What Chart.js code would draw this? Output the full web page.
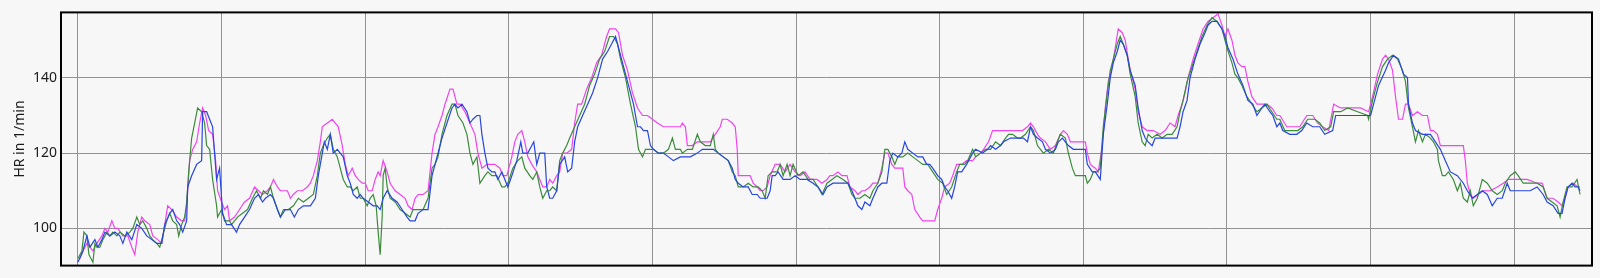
<!DOCTYPE html>
<html>
<head>
<meta charset="utf-8">
<script src="https://cdn.jsdelivr.net/npm/chart.js@4.4.0/dist/chart.umd.min.js"></script>
<style>
    html, body { margin: 0; padding: 0; background: #f7f7f7; }
</style>
</head>
<body>
<canvas id="CHART_HR" width="1600" height="278"></canvas>
<script>
// time in s, heart rate in 1/min (three sensors)
const hrBlue = [[0,91],[5,94],[9,98],[12,95],[17,97],[20,95],[24,97],[27,99],[32,98],[37,99],[42,98],[45,96],[49,99],[54,97],[59,101],[64,100],[69,98],[74,97],[79,96],[84,96],[87,101],[92,104],[95,105],[99,102],[102,101],[105,99],[109,102],[110,111],[114,114],[119,117],[124,118],[125,131],[129,131],[132,129],[135,127],[139,113],[142,116],[145,104],[149,101],[154,101],[159,99],[162,101],[167,103],[172,105],[177,108],[181,109],[185,107],[188,108],[193,109],[196,108],[200,105],[203,103],[208,105],[213,105],[217,103],[221,105],[226,106],[233,106],[238,108],[241,114],[245,120],[247,123],[250,121],[253,125],[256,120],[260,121],[263,120],[266,119],[270,114],[273,112],[276,109],[280,108],[283,109],[286,108],[291,107],[296,106],[300,106],[303,105],[306,108],[310,110],[315,108],[320,107],[325,105],[330,103],[333,102],[338,102],[341,104],[346,105],[351,105],[355,114],[358,117],[361,120],[365,124],[370,128],[375,132],[378,133],[381,132],[385,133],[390,131],[393,128],[396,129],[400,130],[403,130],[405,125],[408,120],[411,116],[415,115],[418,115],[421,113],[425,115],[428,113],[431,111],[435,114],[440,118],[444,123],[446,120],[451,120],[457,123],[460,117],[463,120],[468,120],[470,111],[473,108],[476,108],[480,110],[483,117],[488,119],[491,115],[495,116],[498,123],[501,127],[506,130],[511,133],[516,136],[521,140],[526,145],[531,147],[535,149],[539,151],[542,148],[546,144],[550,140],[554,136],[557,133],[561,127],[564,127],[567,126],[571,126],[574,122],[577,121],[582,120],[587,120],[592,119],[597,118],[604,119],[609,119],[614,119],[621,120],[626,121],[637,121],[642,120],[647,119],[652,118],[656,116],[659,113],[662,112],[667,111],[672,111],[676,109],[681,109],[684,108],[691,108],[694,110],[696,114],[699,114],[702,115],[707,113],[714,113],[719,114],[724,113],[731,113],[737,112],[742,111],[747,109],[751,111],[757,112],[764,112],[772,112],[776,110],[779,108],[782,106],[786,105],[789,107],[794,106],[797,108],[802,111],[806,112],[811,112],[814,118],[817,120],[822,119],[826,120],[829,123],[832,121],[837,120],[842,119],[847,119],[851,117],[854,117],[857,116],[862,114],[866,113],[869,111],[872,110],[876,108],[879,111],[882,115],[886,115],[891,117],[897,120],[900,121],[907,120],[912,121],[915,122],[920,121],[925,122],[928,123],[935,124],[948,124],[952,123],[955,127],[958,125],[962,124],[967,123],[970,121],[975,120],[980,121],[983,123],[987,124],[990,123],[993,122],[998,121],[1005,121],[1010,121],[1012,117],[1017,115],[1020,115],[1025,113],[1028,125],[1032,133],[1035,140],[1038,144],[1042,147],[1045,150],[1048,149],[1052,146],[1055,142],[1060,138],[1063,132],[1067,126],[1070,124],[1073,123],[1077,122],[1080,124],[1083,124],[1088,124],[1102,124],[1105,127],[1108,131],[1112,134],[1115,140],[1120,145],[1125,149],[1130,152],[1133,154],[1137,155],[1142,155],[1147,153],[1150,151],[1153,148],[1158,145],[1163,141],[1168,138],[1173,134],[1178,133],[1182,130],[1187,132],[1190,133],[1195,131],[1198,130],[1202,127],[1205,128],[1208,126],[1215,125],[1222,125],[1227,126],[1232,128],[1238,127],[1245,127],[1250,125],[1258,126],[1261,130],[1269,130],[1279,130],[1289,130],[1296,130],[1299,133],[1304,138],[1311,142],[1314,144],[1319,146],[1324,145],[1329,141],[1333,140],[1334,133],[1338,128],[1341,126],[1348,125],[1356,125],[1361,123],[1366,121],[1371,118],[1376,115],[1383,114],[1389,112],[1393,110],[1398,108],[1403,109],[1408,110],[1413,109],[1418,106],[1423,108],[1428,108],[1433,112],[1436,110],[1446,110],[1456,110],[1463,111],[1469,109],[1473,107],[1479,106],[1484,104],[1488,104],[1491,108],[1494,111],[1498,112],[1501,111],[1504,111],[1506,110]];

const hrGreen = [[0,92],[4,94],[6,99],[9,98],[11,93],[15,91],[17,96],[19,95],[22,95],[25,97],[29,99],[32,98],[35,99],[39,98],[42,99],[47,98],[52,99],[55,100],[59,103],[62,101],[65,102],[69,100],[72,98],[75,97],[79,96],[82,95],[85,98],[89,102],[92,104],[95,102],[99,101],[101,98],[104,101],[107,103],[109,107],[111,115],[114,124],[117,128],[120,132],[124,131],[127,128],[129,122],[132,121],[135,113],[139,106],[140,103],[144,105],[147,102],[152,102],[154,101],[157,102],[160,103],[165,104],[170,105],[175,108],[179,110],[183,108],[186,110],[190,109],[193,111],[196,108],[200,105],[203,103],[206,105],[211,105],[216,106],[221,108],[226,107],[231,108],[236,109],[240,114],[243,120],[246,122],[250,124],[253,125],[256,121],[260,119],[263,116],[266,113],[270,111],[273,111],[276,110],[280,111],[283,108],[286,108],[290,106],[293,108],[296,109],[299,106],[301,99],[303,93],[305,103],[306,114],[308,116],[310,111],[313,108],[318,107],[323,105],[328,104],[333,103],[336,105],[341,105],[346,105],[351,108],[355,116],[358,117],[361,119],[365,125],[370,130],[375,133],[378,133],[381,130],[386,128],[390,125],[393,120],[396,117],[400,119],[403,112],[408,114],[411,115],[415,114],[420,114],[425,111],[428,111],[431,112],[436,116],[441,118],[445,119],[448,116],[453,114],[456,113],[460,115],[463,111],[466,108],[470,110],[473,110],[476,111],[480,110],[483,118],[486,120],[490,122],[493,124],[498,127],[503,130],[508,133],[513,138],[518,141],[523,145],[528,147],[533,151],[537,151],[541,149],[544,145],[549,140],[554,133],[559,127],[562,121],[566,119],[569,121],[572,121],[577,121],[582,120],[587,120],[592,121],[596,124],[599,121],[604,121],[606,120],[611,121],[616,121],[621,125],[624,123],[629,122],[634,122],[637,125],[639,121],[642,120],[647,119],[652,118],[656,115],[659,114],[662,111],[667,111],[672,112],[677,111],[682,111],[686,110],[689,108],[692,114],[696,115],[701,115],[704,117],[707,114],[711,117],[714,114],[717,117],[722,114],[727,115],[732,113],[737,113],[742,111],[746,109],[751,112],[756,113],[761,114],[767,113],[772,112],[776,109],[779,108],[784,108],[789,109],[794,108],[797,110],[802,112],[806,115],[809,121],[812,121],[816,119],[819,117],[822,119],[827,119],[832,120],[837,119],[842,118],[847,117],[852,117],[857,115],[862,113],[867,112],[871,109],[876,111],[881,115],[884,117],[889,117],[892,118],[897,121],[900,119],[905,120],[910,121],[915,121],[920,123],[925,122],[930,124],[933,125],[937,125],[942,124],[945,124],[950,125],[955,127],[958,126],[962,122],[965,121],[968,120],[973,121],[978,120],[982,123],[985,125],[990,124],[993,120],[997,116],[1000,114],[1005,114],[1010,114],[1012,112],[1015,113],[1018,115],[1022,115],[1025,116],[1028,127],[1032,136],[1035,142],[1038,145],[1042,149],[1045,151],[1048,149],[1052,146],[1055,141],[1060,135],[1063,128],[1067,123],[1070,122],[1073,125],[1077,124],[1082,125],[1087,124],[1092,125],[1097,125],[1102,127],[1105,131],[1108,134],[1112,139],[1117,143],[1122,147],[1127,151],[1132,154],[1137,156],[1142,155],[1147,153],[1152,148],[1157,144],[1160,141],[1163,140],[1167,138],[1172,135],[1177,133],[1182,131],[1187,132],[1192,133],[1197,131],[1202,129],[1205,129],[1210,126],[1217,126],[1223,126],[1228,127],[1233,129],[1240,129],[1245,128],[1250,126],[1256,127],[1259,131],[1266,131],[1273,132],[1283,131],[1293,130],[1294,129],[1298,134],[1303,139],[1308,143],[1313,145],[1318,146],[1323,145],[1328,142],[1331,139],[1334,132],[1338,127],[1341,123],[1344,126],[1348,123],[1351,125],[1356,124],[1359,123],[1363,121],[1364,118],[1368,114],[1371,114],[1374,115],[1379,113],[1383,110],[1386,112],[1389,108],[1393,107],[1396,110],[1399,106],[1403,108],[1408,113],[1413,112],[1418,110],[1423,109],[1428,110],[1431,112],[1436,114],[1441,115],[1444,114],[1449,112],[1456,112],[1463,112],[1469,111],[1473,108],[1478,107],[1483,106],[1486,103],[1489,107],[1493,111],[1498,111],[1503,113],[1506,109]];

const hrMagenta = [[2,92],[5,94],[9,96],[12,95],[15,94],[19,96],[24,98],[27,100],[30,99],[34,102],[37,100],[40,100],[45,98],[50,98],[54,95],[57,93],[60,99],[64,103],[67,102],[72,101],[75,98],[80,97],[84,96],[87,101],[90,106],[94,105],[99,103],[104,102],[107,102],[109,106],[112,118],[115,121],[119,123],[122,128],[125,132],[128,130],[131,126],[135,125],[138,118],[140,110],[144,107],[147,105],[150,106],[152,102],[157,103],[162,105],[167,107],[172,108],[177,111],[181,110],[185,109],[190,110],[193,111],[196,113],[200,111],[203,110],[206,110],[210,110],[213,108],[216,109],[220,110],[225,110],[230,111],[233,112],[236,114],[240,118],[243,123],[245,127],[250,128],[255,129],[258,128],[261,127],[265,122],[268,117],[271,114],[275,116],[278,114],[281,113],[285,112],[288,112],[291,110],[295,110],[298,113],[301,115],[303,114],[306,118],[310,115],[313,112],[318,110],[323,109],[328,108],[331,106],[335,105],[338,108],[341,109],[346,109],[351,110],[355,120],[358,125],[361,127],[365,130],[368,133],[373,137],[376,137],[380,133],[383,133],[388,131],[393,128],[398,125],[401,120],[405,116],[410,117],[413,117],[418,117],[423,116],[426,114],[430,114],[435,119],[438,123],[441,125],[445,126],[448,123],[451,119],[455,117],[460,115],[463,113],[466,111],[470,111],[473,113],[476,112],[480,114],[483,115],[486,120],[490,120],[495,121],[498,128],[501,133],[505,133],[510,137],[515,140],[520,144],[525,146],[530,151],[533,153],[539,153],[542,152],[546,146],[551,142],[556,136],[561,132],[566,130],[571,130],[576,129],[581,128],[587,127],[594,127],[599,127],[604,127],[606,128],[609,127],[611,122],[616,122],[621,123],[634,123],[639,125],[644,127],[646,129],[651,129],[656,128],[659,127],[661,121],[662,114],[667,114],[674,114],[677,112],[681,111],[684,110],[687,110],[691,111],[694,114],[699,117],[704,117],[709,115],[714,117],[719,115],[724,114],[729,115],[734,113],[741,113],[746,112],[751,113],[754,114],[757,114],[762,115],[766,114],[771,114],[774,111],[779,110],[782,109],[786,110],[789,110],[794,111],[797,112],[802,112],[806,116],[809,120],[812,120],[816,117],[819,116],[827,116],[829,111],[832,110],[836,109],[839,105],[844,103],[847,102],[854,102],[859,102],[862,105],[866,108],[869,111],[874,112],[877,114],[881,117],[886,117],[891,118],[897,118],[900,119],[905,120],[908,121],[913,123],[917,126],[923,126],[928,126],[935,126],[942,126],[947,126],[952,127],[955,128],[958,127],[962,125],[965,124],[970,123],[975,121],[980,122],[985,125],[988,126],[992,125],[995,123],[1002,123],[1010,123],[1012,120],[1015,117],[1020,116],[1023,115],[1027,122],[1030,132],[1033,139],[1037,143],[1040,148],[1043,153],[1047,152],[1050,150],[1053,145],[1055,142],[1060,137],[1063,131],[1067,127],[1072,126],[1078,126],[1085,125],[1090,126],[1095,128],[1100,127],[1103,130],[1107,133],[1110,136],[1113,140],[1118,145],[1123,149],[1128,153],[1133,155],[1138,156],[1143,157],[1147,154],[1150,151],[1153,153],[1157,150],[1160,146],[1163,144],[1167,143],[1170,143],[1173,139],[1177,135],[1182,133],[1187,133],[1192,133],[1197,132],[1202,130],[1205,130],[1212,127],[1218,127],[1225,127],[1232,130],[1238,130],[1243,128],[1248,127],[1254,126],[1259,133],[1266,132],[1273,132],[1279,132],[1286,132],[1294,131],[1298,135],[1303,141],[1308,145],[1311,146],[1314,145],[1318,142],[1321,135],[1324,129],[1328,129],[1331,133],[1334,133],[1338,130],[1343,131],[1348,130],[1353,130],[1356,126],[1359,126],[1363,125],[1366,122],[1373,122],[1379,122],[1389,122],[1391,118],[1393,112],[1396,109],[1399,108],[1404,109],[1409,110],[1416,110],[1423,111],[1429,112],[1434,113],[1443,113],[1453,113],[1463,112],[1468,112],[1473,108],[1479,108],[1484,107],[1488,106],[1491,108],[1494,111],[1499,112],[1504,111],[1506,111]];

const timeTicks = [0, 144, 288, 432, 576, 720, 864, 1008, 1152, 1296, 1440];
const hrTicks = [100, 120, 140];

const TickFontColor = '#1a1a1a';
const GridColor = '#929292';

function toPoints(list) {
    return list.map(p => ({ x: p[0], y: p[1] }));
}

const frame = {
    id: 'frame',
    beforeDraw(chart) {
        const ctx = chart.ctx;
        ctx.save();
        ctx.fillStyle = '#f7f7f7';
        ctx.fillRect(0, 0, chart.width, chart.height);
        ctx.restore();
    },
    afterDraw(chart) {
        const a = chart.chartArea;
        const ctx = chart.ctx;
        ctx.save();
        ctx.strokeStyle = '#000';
        ctx.lineWidth = 2;
        ctx.strokeRect(a.left, a.top, a.right - a.left, a.bottom - a.top);
        ctx.restore();
    }
};

let chartHtml = document.getElementById('CHART_HR').getContext('2d');

let chart = new Chart(chartHtml, {
    type: 'line',
    data: {
        datasets: [{
            label: 'HR blue',
            data: toPoints(hrBlue),
            borderColor: '#2746dc',
        }, {
            label: 'HR green',
            data: toPoints(hrGreen),
            borderColor: '#3b8b3b',
        }, {
            label: 'HR magenta',
            data: toPoints(hrMagenta),
            borderColor: '#f044f0',
        }]
    },
    options: {
        responsive: false,
        animation: false,
        devicePixelRatio: 1,
        layout: {
            padding: { top: 8, right: 8, bottom: 11, left: 0 }
        },
        elements: {
            point: { radius: 0 },
            line: { borderWidth: 1.2, tension: 0 }
        },
        plugins: {
            legend: { display: false },
            tooltip: { enabled: false }
        },
        scales: {
            x: {
                type: 'linear',
                min: -17,
                max: 1518,
                afterBuildTicks: (scale) => { scale.ticks = timeTicks.map(v => ({ value: v })); },
                afterFit: (scale) => { scale.height = 0; },
                ticks: { display: false },
                grid: { color: GridColor, lineWidth: 1, drawTicks: false },
                border: { display: false }
            },
            y: {
                min: 90.1,
                max: 157.4,
                afterBuildTicks: (scale) => { scale.ticks = hrTicks.map(v => ({ value: v })); },
                afterFit: (scale) => { scale.width = 61; },
                ticks: {
                    color: TickFontColor,
                    padding: 4,
                    font: { family: 'Noto Sans', size: 14 }
                },
                grid: { color: GridColor, lineWidth: 1, drawTicks: false },
                border: { display: false },
                title: {
                    display: true,
                    text: 'HR in 1/min',
                    color: TickFontColor,
                    padding: { top: 12, bottom: 0 },
                    font: { family: 'Noto Sans', size: 14 }
                }
            }
        }
    },
    plugins: [frame]
});
</script>
</body>
</html>
